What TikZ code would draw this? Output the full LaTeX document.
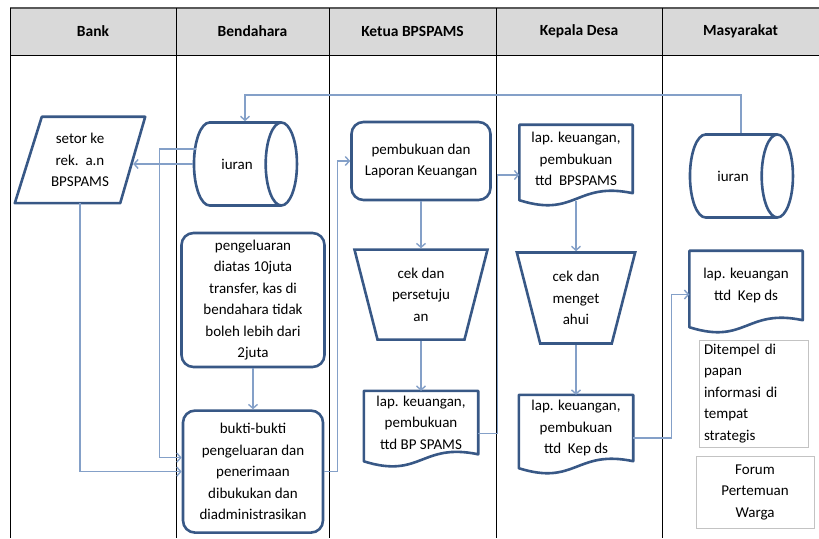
\documentclass[tikz,border=0pt]{standalone}
\usepackage{fontspec}
\setmainfont{Carlito}
\usetikzlibrary{shapes.geometric, arrows.meta, positioning, calc}

\definecolor{boxline}{RGB}{56,88,134}
\definecolor{flowline}{RGB}{132,160,200}
\definecolor{headfill}{RGB}{217,217,217}
\definecolor{noteline}{RGB}{195,195,195}

% wavy-bottom document outline round a named node
\newcommand{\docoutline}[1]{%
  \draw[boxline, line width=2.6pt, line join=round]
    (#1.north west) -- (#1.north east) -- (#1.south east)
    .. controls ($(#1.south)+(0,12)$) and ($(#1.south)+(0,-25)$) .. ($(#1.south west)+(0,-7)$) -- cycle;}

\begin{document}
\begin{tikzpicture}[
        x=1pt, y=1pt,
        font=\fontsize{15}{21.5}\selectfont,
        laneHead/.style={font=\fontsize{15.5}{18}\selectfont\bfseries},
        storeNode/.style={
            cylinder, draw=boxline, line width=2.6pt, aspect=3,
            minimum width=83pt, minimum height=103pt, inner sep=0pt
        },
        procNode/.style={
            rectangle, rounded corners=12pt, draw=boxline, line width=2.6pt,
            align=center, inner sep=2pt
        },
        manualNode/.style={
            trapezium, shape border rotate=180, trapezium angle=74,
            trapezium stretches=true, draw=boxline, line width=2.6pt,
            align=center, inner sep=0pt
        },
        docNode/.style={rectangle, minimum width=114pt, align=center, inner sep=0pt},
        ioNode/.style={rectangle, minimum width=130pt, minimum height=86pt, align=center},
        noteNode/.style={rectangle, draw=noteline, line width=0.8pt},
        flow/.style={draw=flowline, line width=1.4pt, -{Straight Barb[length=4pt,width=9pt]}}
    ]
        \useasboundingbox (0,0) rectangle (819,538);

        % Swimlane frame
        \fill[headfill] (10,483) rectangle (819,530);
        \draw[black!65, line width=1.8pt] (10,530) -- (819,530);
        \draw[black, line width=0.7pt] (10,483) -- (819,483);
        \draw[black, line width=0.7pt] (10,530) -- (10,0);
        \draw[black, line width=0.7pt] (176,530) -- (176,0);
        \draw[black, line width=0.7pt] (329,530) -- (329,0);
        \draw[black, line width=0.7pt] (496,530) -- (496,0);
        \draw[black, line width=0.7pt] (662,530) -- (662,0);

        \node (hBank) [laneHead] at (93,506.5) {Bank};
        \node (hBend) [laneHead] at (252.5,506.5) {Bendahara};
        \node (hKetua) [laneHead] at (412.5,506.5) {Ketua BPSPAMS};
        \node (hKades) [laneHead] at (579,506.5) {Kepala Desa};
        \node (hMasy) [laneHead] at (740.5,506.5) {Masyarakat};

        % Bank
        \node (setor) [ioNode] at (80,378) {setor ke\\rek.\ \ a.n\\BPSPAMS};
        \draw[boxline, line width=2.6pt, line join=round]
            ($(setor.north west)+(27,0)$) -- (setor.north east)
            -- ($(setor.south east)+(-25,0)$) -- (setor.south west) -- cycle;
        \coordinate (setorR) at ($(setor.east)+(-12,0)$);

        % Bendahara
        \node (iuranB) [storeNode] at (237,374) {iuran};
        \node (keluar) [procNode, minimum width=143pt, minimum height=134pt] at (253,238)
            {pengeluaran\\diatas 10juta\\transfer, kas di\\bendahara tidak\\boleh lebih dari\\2juta};
        \node (bukti) [procNode, minimum width=140pt, minimum height=122pt, below=41pt of keluar]
            {bukti-bukti\\pengeluaran dan\\penerimaan\\dibukukan dan\\diadministrasikan};

        % Ketua BPSPAMS
        \node (buku) [procNode, minimum width=139pt, minimum height=78pt] at (421,377)
            {pembukuan dan\\Laporan Keuangan};
        \node (cekSetuju) [manualNode, minimum width=134pt, minimum height=90pt, below=47pt of buku]
            {cek dan\\persetuju\\an};
        \node (lapBP) [docNode, minimum height=63pt, below=50pt of cekSetuju]
            {lap. keuangan,\\pembukuan\\ttd BP SPAMS};
        \docoutline{lapBP}

        % Kepala Desa
        \node (lapKetua) [docNode, minimum width=113pt, minimum height=68pt] at (576,379)
            {lap. keuangan,\\pembukuan\\ttd\ \ BPSPAMS};
        \docoutline{lapKetua}
        \node (cekTahu) [manualNode, minimum width=119pt, minimum height=91pt, below=58pt of lapKetua]
            {cek dan\\menget\\ahui};
        \node (lapKades) [docNode, minimum height=66pt, below=50pt of cekTahu]
            {lap. keuangan,\\pembukuan\\ttd\ \ Kep ds};
        \docoutline{lapKades}

        % Masyarakat
        \node (iuranM) [storeNode] at (733,362) {iuran};
        \node (lapWarga) [docNode, minimum width=113pt, minimum height=69pt] at (746,252.5)
            {lap. keuangan\\ttd\ \ Kep ds};
        \docoutline{lapWarga}
        \node (tempel) [noteNode, text width=99pt, align=left, inner xsep=5pt, inner ysep=0pt,
            minimum height=107pt] at (753.5,144.5)
            {Ditempel di\\papan\\informasi di\\tempat\\strategis};
        \node (forum) [noteNode, minimum width=118pt, minimum height=72pt, align=center] at (755,46)
            {Forum\\Pertemuan\\Warga};

        % Flows
        \draw[flow] ($(iuranM.north)+(8,0)$) -- ++(0,38) -| ($(iuranB.north)+(8,0)$);
        \draw[flow] (iuranB.west) -- (iuranB.west -| setorR);
        \draw[flow] ($(iuranB.west)+(3,15)$) -- ++(-36,0) |- ($(bukti.west)+(0,14)$);
        \draw[flow] (setor.south) |- (bukti.west);
        \draw[flow] (keluar.south) -- (bukti.north);
        \draw[flow] (bukti.east) -- ++(13,0) |- (buku.west);
        \draw[flow] (buku.south) -- (cekSetuju.north);
        \draw[flow] (cekSetuju.south) -- (lapBP.north);
        \draw[flow] ($(lapBP.east)+(0,-11)$) -- ++(19,0) |- ($(lapKetua.west)+(0,-16)$);
        \draw[flow] ($(lapKetua.south)+(0,-8)$) -- (cekTahu.north);
        \draw[flow] (cekTahu.south) -- (lapKades.north);
        \draw[flow] ($(lapKades.east)+(0,-10)$) -- ++(38,0) |- ($(lapWarga.west)+(0,-9)$);
    \end{tikzpicture}
\end{document}
